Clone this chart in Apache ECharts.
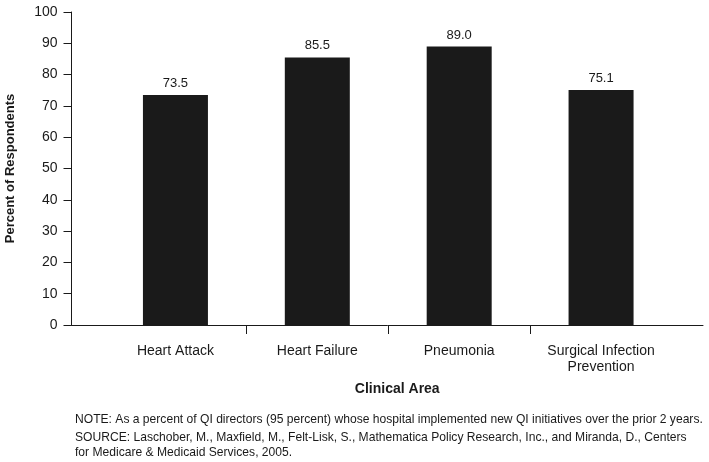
<!DOCTYPE html>
<html><head><meta charset="utf-8">
<script src="https://cdn.jsdelivr.net/npm/echarts@6/dist/echarts.min.js"></script>
<style>html,body{margin:0;padding:0;background:#fff}#c{width:709px;height:462px}</style>
</head><body><div id="c"></div>
<script>
var categories = ['Heart Attack', 'Heart Failure', 'Pneumonia', 'Surgical Infection\nPrevention'];
var values = [73.5, 85.5, 89.0, 75.1];
var yTicks = [0, 10, 20, 30, 40, 50, 60, 70, 80, 90, 100];
var yAxisName = 'Percent of Respondents';
var xAxisName = 'Clinical Area';
var noteText = 'NOTE: As a percent of QI directors (95 percent) whose hospital implemented new QI initiatives over the prior 2 years.';
var sourceText = 'SOURCE: Laschober, M., Maxfield, M., Felt-Lisk, S., Mathematica Policy Research, Inc., and Miranda, D., Centers\nfor Medicare & Medicaid Services, 2005.';

var FONT = '"Liberation Sans", Arial, Helvetica, sans-serif';
var TXT = '#1a1a1a';
var chart = echarts.init(document.getElementById('c'), null, {renderer: 'canvas'});
var boundaries = [];
for (var i = 1; i < categories.length; i++) boundaries.push(i);

chart.setOption({
  backgroundColor: '#fff',
  animation: false,
  textStyle: {fontFamily: FONT, color: TXT},
  grid: [
    {left: 71.5, right: 6, top: 12, bottom: 137, containLabel: false, outerBoundsMode: 'none'},
    {left: 104.5, right: 37, top: 12, bottom: 137, containLabel: false, outerBoundsMode: 'none'}
  ],
  xAxis: [
    {gridIndex: 0, type: 'value', min: 0, max: 1, position: 'bottom',
     axisLine: {show: true, lineStyle: {color: TXT, width: 1}},
     axisTick: {show: false}, axisLabel: {show: false}, splitLine: {show: false}},
    {gridIndex: 1, type: 'category', data: categories, position: 'bottom',
     axisLine: {show: false}, axisTick: {show: false},
     axisLabel: {fontFamily: FONT, fontSize: 14, color: TXT, margin: 18, lineHeight: 16, interval: 0},
     name: xAxisName, nameLocation: 'middle', nameGap: 57,
     nameTextStyle: {fontFamily: FONT, fontSize: 14, fontWeight: 'bold', color: TXT, padding: [0, 0, 0, 18]}},
    {gridIndex: 1, type: 'value', min: 0, max: categories.length, position: 'bottom',
     axisLine: {show: false}, axisLabel: {show: false}, splitLine: {show: false},
     axisTick: {show: true, inside: false, length: 9, customValues: boundaries, lineStyle: {color: TXT, width: 1}}}
  ],
  yAxis: [
    {gridIndex: 0, type: 'value', min: 0, max: 100, interval: 10,
     axisLine: {show: true, lineStyle: {color: TXT, width: 1}},
     axisTick: {show: true, inside: false, length: 8, lineStyle: {color: TXT}},
     axisLabel: {fontFamily: FONT, fontSize: 14, color: TXT, margin: 14,
       customValues: yTicks},
     splitLine: {show: false},
     name: yAxisName, nameLocation: 'middle', nameGap: 55, nameRotate: 90,
     nameTextStyle: {fontFamily: FONT, fontSize: 13, fontWeight: 'bold', color: TXT}},
    {gridIndex: 1, type: 'value', min: 0, max: 100, show: false}
  ],
  series: [{
    type: 'bar', xAxisIndex: 1, yAxisIndex: 1, data: values, barWidth: 65,
    itemStyle: {color: '#1a1a1a'},
    label: {show: true, position: 'top', distance: 5, fontFamily: FONT, fontSize: 13, color: TXT,
      formatter: function (p) { return p.value.toFixed(1); }}
  }],
  graphic: [
    {type: 'text', left: 75, top: 414, style: {text: noteText, font: '12.1px ' + FONT, fill: TXT}},
    {type: 'text', left: 75, top: 430, style: {text: sourceText, font: '12.1px ' + FONT, fill: TXT, lineHeight: 15}}
  ]
});
</script></body></html>
